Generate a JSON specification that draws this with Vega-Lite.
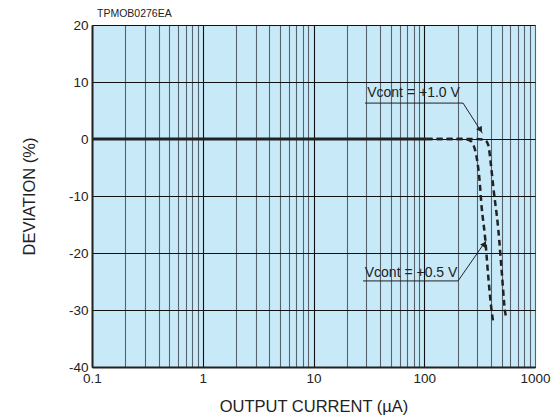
{
  "$schema": "https://vega.github.io/schema/vega-lite/v6.json",
  "width": 443,
  "height": 342,
  "autosize": {"type": "none"},
  "padding": {"left": 92, "top": 25, "right": 25, "bottom": 53},
  "background": "white",
  "title": {"text": "TPMOB0276EA", "anchor": "start", "frame": "group", "fontSize": 10.5, "fontWeight": "normal", "font": "Liberation Sans", "color": "#222", "offset": -1, "dx": 5},
  "config": {
    "view": {"fill": "#c8e9f8", "stroke": "#444", "strokeWidth": 1},
    "font": "Liberation Sans"
  },
  "datasets": {
    "curves": [
      {"series": "solid", "current": 0.1, "deviation": 0},
      {"series": "solid", "current": 105, "deviation": 0},
      {"series": "v10", "current": 105, "deviation": 0},
      {"series": "v10", "current": 300, "deviation": 0},
      {"series": "v10", "current": 355, "deviation": -0.2},
      {"series": "v10", "current": 379, "deviation": -1.1},
      {"series": "v10", "current": 400, "deviation": -4.5},
      {"series": "v10", "current": 420, "deviation": -8.4},
      {"series": "v10", "current": 467, "deviation": -16},
      {"series": "v10", "current": 500, "deviation": -23.1},
      {"series": "v10", "current": 536, "deviation": -30.2},
      {"series": "v10", "current": 555, "deviation": -31.6},
      {"series": "v05", "current": 105, "deviation": 0},
      {"series": "v05", "current": 230, "deviation": 0},
      {"series": "v05", "current": 260, "deviation": -0.3},
      {"series": "v05", "current": 280, "deviation": -1.2},
      {"series": "v05", "current": 299, "deviation": -3.5},
      {"series": "v05", "current": 315, "deviation": -7},
      {"series": "v05", "current": 330, "deviation": -12},
      {"series": "v05", "current": 354, "deviation": -17.2},
      {"series": "v05", "current": 379, "deviation": -24.3},
      {"series": "v05", "current": 406, "deviation": -30.2},
      {"series": "v05", "current": 420, "deviation": -32.2}
    ],
    "labels": [
      {"text": "Vcont = +1.0 V", "current": 80, "deviation": 8.1},
      {"text": "Vcont = +0.5 V", "current": 76, "deviation": -23.5}
    ],
    "underlines": [
      {"current": 29.2, "current2": 224, "deviation": 6.3},
      {"current": 28, "current2": 202, "deviation": -24.9}
    ],
    "leaders": [
      {"current": 224, "deviation": 6.3, "current2": 335, "deviation2": 1.0},
      {"current": 202, "deviation": -24.9, "current2": 362, "deviation2": -17.8}
    ],
    "arrows": [
      {"current": 322, "deviation": 1.6, "angle": 148},
      {"current": 350, "deviation": -18.4, "angle": 34}
    ]
  },
  "layer": [
    {
      "data": {"name": "curves"},
      "transform": [{"filter": "datum.series == 'solid'"}],
      "mark": {"type": "line", "color": "#222", "strokeWidth": 3},
      "encoding": {
        "x": {
          "field": "current", "type": "quantitative",
          "scale": {"type": "log", "domain": [0.1, 1000], "nice": false},
          "axis": {
            "values": [0.1, 0.2, 0.3, 0.4, 0.5, 0.6, 0.7, 0.8, 0.9, 1, 2, 3, 4, 5, 6, 7, 8, 9, 10, 20, 30, 40, 50, 60, 70, 80, 90, 100, 200, 300, 400, 500, 600, 700, 800, 900, 1000],
            "format": "~g",
            "labelExpr": "(datum.value == 0.1 || datum.value == 1 || datum.value == 10 || datum.value == 100 || datum.value == 1000) ? datum.label : ''",
            "grid": true,
            "gridColor": {"condition": {"test": "datum.value == 1 || datum.value == 10 || datum.value == 100", "value": "#111111"}, "value": "#56636c"},
            "gridWidth": 1.1,
            "gridOpacity": 1,
            "ticks": false,
            "domainColor": "#222",
            "domainWidth": 2,
            "labelFontSize": 13.5,
            "labelColor": "#222",
            "labelPadding": 4,
            "labelFlush": false,
            "labelOverlap": false,
            "title": "OUTPUT CURRENT (µA)",
            "titleFontSize": 16.5,
            "titleFontWeight": "normal",
            "titleColor": "#222",
            "titlePadding": 14
          }
        },
        "y": {
          "field": "deviation", "type": "quantitative",
          "scale": {"domain": [-40, 20], "nice": false, "zero": false},
          "axis": {
            "values": [-40, -30, -20, -10, 0, 10, 20],
            "labelExpr": "'' + datum.value",
            "grid": true,
            "gridColor": "#111111",
            "gridWidth": 1.1,
            "gridOpacity": 1,
            "ticks": false,
            "domainColor": "#222",
            "domainWidth": 2,
            "labelFontSize": 13.5,
            "labelColor": "#222",
            "labelPadding": 4,
            "labelFlush": false,
            "labelOverlap": false,
            "title": "DEVIATION (%)",
            "titleFontSize": 16.5,
            "titleFontWeight": "normal",
            "titleColor": "#222",
            "titlePadding": 31
          }
        }
      }
    },
    {
      "data": {"name": "curves"},
      "transform": [{"filter": "datum.series != 'solid'"}],
      "mark": {"type": "line", "color": "#222", "strokeWidth": 2.5, "strokeDash": [6, 4], "interpolate": "monotone"},
      "encoding": {
        "x": {"field": "current", "type": "quantitative"},
        "y": {"field": "deviation", "type": "quantitative"},
        "detail": {"field": "series"}
      }
    },
    {
      "data": {"name": "underlines"},
      "mark": {"type": "rule", "color": "#222", "strokeWidth": 1},
      "encoding": {
        "x": {"field": "current", "type": "quantitative"},
        "x2": {"field": "current2"},
        "y": {"field": "deviation", "type": "quantitative"}
      }
    },
    {
      "data": {"name": "leaders"},
      "mark": {"type": "rule", "color": "#222", "strokeWidth": 1},
      "encoding": {
        "x": {"field": "current", "type": "quantitative"},
        "x2": {"field": "current2"},
        "y": {"field": "deviation", "type": "quantitative"},
        "y2": {"field": "deviation2"}
      }
    },
    {
      "data": {"name": "arrows"},
      "mark": {"type": "point", "shape": "triangle-up", "filled": true, "color": "#222", "size": 45, "opacity": 1},
      "encoding": {
        "x": {"field": "current", "type": "quantitative"},
        "y": {"field": "deviation", "type": "quantitative"},
        "angle": {"field": "angle", "type": "quantitative", "scale": null}
      }
    },
    {
      "data": {"name": "labels"},
      "mark": {"type": "text", "fontSize": 14, "color": "#222", "align": "center", "baseline": "middle"},
      "encoding": {
        "x": {"field": "current", "type": "quantitative"},
        "y": {"field": "deviation", "type": "quantitative"},
        "text": {"field": "text"}
      }
    }
  ]
}
